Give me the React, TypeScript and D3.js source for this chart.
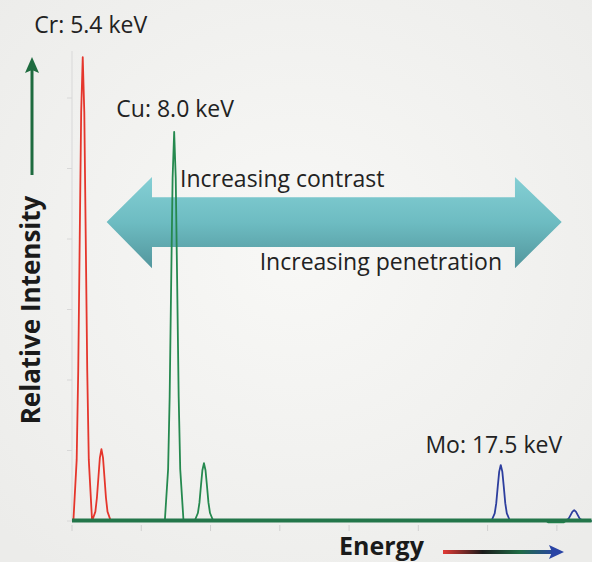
import React from 'react';
import * as d3 from 'd3';

// spectra: [energy keV, relative intensity]
const crSpectrum: [number, number][] = [
  [5.1, 0], [5.14, 0], [5.235, 13], [5.28, 32], [5.323, 60], [5.365, 87], [5.41, 98.7],
  [5.455, 87], [5.497, 60], [5.54, 32], [5.585, 13], [5.68, 0],
  [5.775, 2], [5.82, 5], [5.863, 9.3], [5.905, 13.5], [5.95, 15.3], [5.995, 13.5],
  [6.037, 9.3], [6.08, 5], [6.125, 2], [6.22, 0], [9.2, 0],
];

const cuSpectrum: [number, number][] = [
  [5.1, 0], [7.78, 0], [7.875, 11], [7.92, 26.5], [7.963, 50.5], [8.005, 73], [8.05, 82.8],
  [8.095, 73], [8.137, 50.5], [8.18, 26.5], [8.225, 11], [8.32, 0],
  [8.64, 0], [8.735, 1.7], [8.78, 3.9], [8.823, 7.5], [8.865, 10.8], [8.91, 12.3],
  [8.955, 10.8], [8.997, 7.5], [9.04, 3.9], [9.085, 1.7], [9.18, 0],
  [18.8, 0], [18.85, -0.3], [19.3, -0.3], [19.35, 0], [20.1, 0],
];

const moSpectrum: [number, number][] = [
  [5.1, 0], [17.21, 0], [17.305, 1.6], [17.35, 3.8], [17.393, 7.3], [17.435, 10.5], [17.48, 11.9],
  [17.525, 10.5], [17.567, 7.3], [17.61, 3.8], [17.655, 1.6], [17.75, 0],
  [19.33, 0], [19.44, 0.5], [19.5, 1.3], [19.55, 2], [19.6, 2.3], [19.65, 2],
  [19.7, 1.3], [19.76, 0.5], [19.87, 0], [20.1, 0],
];

const peakLabels = [
  { text: 'Cr: 5.4 keV', energy: 5.41, intensity: 98.7 },
  { text: 'Cu: 8.0 keV', energy: 8.05, intensity: 82.8 },
  { text: 'Mo: 17.5 keV', energy: 17.48, intensity: 11.9 },
];

const xTicks = [5.1, 7.1, 9.1, 11.1, 13.1, 15.1, 17.1, 19.1];
const yTicks = [0, 15, 30, 45, 60, 75, 90];

export default function App() {
  const width = 592;
  const height = 562;

  const x = d3.scaleLinear().domain([5.1, 20.1]).range([72, 591.5]);
  const y = d3.scaleLinear().domain([0, 100]).range([521, 51]);

  const line = d3
    .line<[number, number]>()
    .x(d => x(d[0]))
    .y(d => y(d[1]));

  // double arrow in data units
  const arrowPts: [number, number][] = [
    [6.1, 63.6], [7.41, 73.2], [7.41, 68.9], [17.89, 68.9], [17.89, 73.2],
    [19.24, 63.6], [17.89, 53.8], [17.89, 58.3], [7.41, 58.3], [7.41, 53.8],
  ];
  const arrowPath = line(arrowPts) + 'Z';

  const labelOffset = [
    { dx: 8, dy: -24 },
    { dx: 1, dy: -15 },
    { dx: -7, dy: -12 },
  ];

  const font = '"Open Sans", sans-serif';

  return (
    <svg
      width={width}
      height={height}
      style={{ position: 'absolute', left: 0, top: 0, fontFamily: font }}
    >
      <defs>
        <radialGradient id="bg" cx="50%" cy="45%" r="70%">
          <stop offset="0%" stopColor="#f8f8f6" />
          <stop offset="100%" stopColor="#ececea" />
        </radialGradient>
        <linearGradient id="teal" x1="0" y1="0" x2="0" y2="1">
          <stop offset="0%" stopColor="#7fcdd3" />
          <stop offset="50%" stopColor="#66b9bf" />
          <stop offset="100%" stopColor="#4a9198" />
        </linearGradient>
        <linearGradient id="energyGrad" gradientUnits="userSpaceOnUse" x1={443} y1={0} x2={556} y2={0}>
          <stop offset="0%" stopColor="#e23a35" />
          <stop offset="35%" stopColor="#1a1a1a" />
          <stop offset="68%" stopColor="#1f6b45" />
          <stop offset="100%" stopColor="#2a44a5" />
        </linearGradient>
      </defs>

      <rect width={width} height={height} fill="url(#bg)" />

      {/* faint axes */}
      <line x1={x(5.1)} x2={x(5.1)} y1={y(0)} y2={y(100)} stroke="#dcdcdc" strokeWidth={1.2} />
      {yTicks.map(t => (
        <line key={t} x1={x(5.1) - 5} x2={x(5.1)} y1={y(t)} y2={y(t)} stroke="#d8d8d8" />
      ))}
      {xTicks.map(t => (
        <line key={t} x1={x(t)} x2={x(t)} y1={y(0) + 4} y2={y(0) + 10} stroke="#d0d0d0" />
      ))}

      {/* teal double arrow, under the spectra */}
      <path d={arrowPath} fill="url(#teal)" opacity={0.95} />

      {/* spectra */}
      <path d={line(crSpectrum) || ''} fill="none" stroke="#e5362c" strokeWidth={1.8} strokeLinejoin="round" />
      <path d={line(moSpectrum) || ''} fill="none" stroke="#2d3e9e" strokeWidth={1.8} strokeLinejoin="round" />
      <path d={line(cuSpectrum) || ''} fill="none" stroke="#25894f" strokeWidth={1.8} strokeLinejoin="round" />
      <line x1={x(5.1)} x2={x(20.1)} y1={y(0) - 0.5} y2={y(0) - 0.5} stroke="#23764a" strokeWidth={4} />

      <text x={180} y={187} fontSize={23} fill="#222">Increasing contrast</text>
      <text x={502} y={270} fontSize={23} fill="#222" textAnchor="end">Increasing penetration</text>

      {/* peak labels */}
      {peakLabels.map((p, i) => (
        <text
          key={p.text}
          x={x(p.energy) + labelOffset[i].dx}
          y={y(p.intensity) + labelOffset[i].dy}
          fontSize={23}
          fill="#222"
          textAnchor="middle"
        >
          {p.text}
        </text>
      ))}

      {/* y axis title with arrow */}
      <line x1={32} x2={32} y1={175} y2={68} stroke="#1e6b3f" strokeWidth={3} />
      <path d="M32,57 L39,73 L32,70 L25,73 Z" fill="#1e6b3f" />
      <text
        transform="translate(40,310) rotate(-90)"
        textAnchor="middle"
        fontSize={26}
        fontWeight="bold"
        fill="#1a1a1a"
      >
        Relative Intensity
      </text>

      {/* x axis title with arrow */}
      <text x={339} y={555} fontSize={25} fontWeight="bold" fill="#1a1a1a">Energy</text>
      <rect x={443} y={550} width={110} height={4} fill="url(#energyGrad)" />
      <path d="M564,552 L549,545 L552,552 L549,559 Z" fill="#2a44a5" />
    </svg>
  );
}
